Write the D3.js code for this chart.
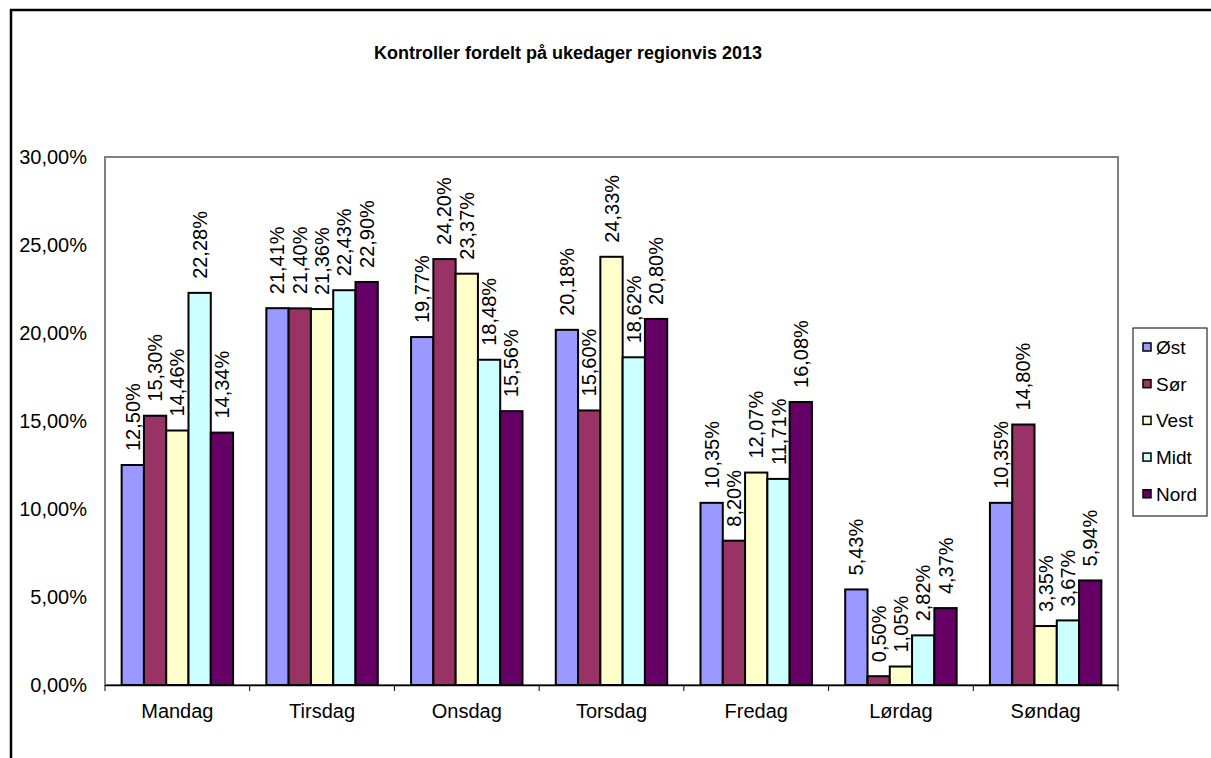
<!DOCTYPE html>
<html>
<head>
<meta charset="utf-8">
<script src="https://cdn.jsdelivr.net/npm/d3@7"></script>
<style>
  body { margin: 0; background: #fff; }
  text { font-family: "Liberation Sans", Arial, sans-serif; fill: #000; }
</style>
</head>
<body>
<div id="chart-area"></div>
<script>
// DATA
var days = ["Mandag", "Tirsdag", "Onsdag", "Torsdag", "Fredag", "Lørdag", "Søndag"];
var regions = ["Øst", "Sør", "Vest", "Midt", "Nord"];
var colors = ["#9999ff", "#993366", "#ffffcc", "#ccffff", "#660066"];
var ost  = [12.50, 21.41, 19.77, 20.18, 10.35, 5.43, 10.35];
var sor  = [15.30, 21.40, 24.20, 15.60, 8.20, 0.50, 14.80];
var vest = [14.46, 21.36, 23.37, 24.33, 12.07, 1.05, 3.35];
var midt = [22.28, 22.43, 18.48, 18.62, 11.71, 2.82, 3.67];
var nord = [14.34, 22.90, 15.56, 20.80, 16.08, 4.37, 5.94];
var yTicks = [0, 5, 10, 15, 20, 25, 30];

var series = [ost, sor, vest, midt, nord];

var W = 1211, H = 758;
var margin = { top: 157, left: 105, right: 93, bottom: 73 };
var width = W - margin.left - margin.right;
var height = H - margin.top - margin.bottom;

var svg = d3.select("#chart-area").append("svg")
    .attr("width", W).attr("height", H);

// outer frame (left and top visible)
svg.append("rect")
    .attr("x", 11).attr("y", 10)
    .attr("width", W + 10).attr("height", H + 10)
    .attr("fill", "none").attr("stroke", "#000").attr("stroke-width", 2.5);

// title
svg.append("text")
    .attr("x", 568).attr("y", 59)
    .attr("text-anchor", "middle")
    .attr("font-size", "18px").attr("font-weight", "bold")
    .text("Kontroller fordelt på ukedager regionvis 2013");

var g = svg.append("g")
    .attr("transform", "translate(" + margin.left + "," + margin.top + ")");

// SCALES
var x0 = d3.scaleBand().domain(days).range([0, width]).paddingInner(0).paddingOuter(0);
var innerPad = 0.115;
var x1 = d3.scaleBand().domain(d3.range(regions.length))
    .range([x0.bandwidth() * innerPad, x0.bandwidth() * (1 - innerPad)]);
var y = d3.scaleLinear().domain([0, 30]).range([height, 0]);

// plot frame (gray)
g.append("rect")
    .attr("x", 0).attr("y", 0).attr("width", width).attr("height", height)
    .attr("fill", "none").attr("stroke", "#808080").attr("stroke-width", 2);

// y axis labels
var fmt = function (d) { return d.toFixed(2).replace(".", ",") + "%"; };
g.selectAll(".ylab").data(yTicks).enter().append("text")
    .attr("class", "ylab")
    .attr("x", -18).attr("y", function (d) { return y(d) + 7; })
    .attr("text-anchor", "end").attr("font-size", "20px")
    .text(fmt);

// x axis
var xAxis = g.append("g").attr("transform", "translate(0," + height + ")")
    .call(d3.axisBottom(x0).tickSize(0).tickPadding(19));
xAxis.select(".domain").attr("stroke", "#000").attr("stroke-width", 1.5);
xAxis.selectAll("text").attr("font-size", "20px").attr("font-family", "Liberation Sans, Arial, sans-serif");
xAxis.selectAll(".sep").data(d3.range(days.length + 1)).enter().append("line")
    .attr("class", "sep")
    .attr("x1", function (i) { return i * x0.step(); })
    .attr("x2", function (i) { return i * x0.step(); })
    .attr("y1", 0).attr("y2", 6)
    .attr("stroke", "#000");

// BARS
series.forEach(function (vals, si) {
    var grp = g.append("g");
    grp.selectAll("rect").data(vals).enter().append("rect")
        .attr("x", function (d, i) { return x0(days[i]) + x1(si); })
        .attr("y", function (d) { return y(d); })
        .attr("width", x1.bandwidth())
        .attr("height", function (d) { return height - y(d); })
        .attr("fill", colors[si])
        .attr("stroke", "#000").attr("stroke-width", 2);
    grp.selectAll("text").data(vals).enter().append("text")
        .attr("transform", function (d, i) {
            var cx = x0(days[i]) + x1(si) + x1.bandwidth() / 2 + 7;
            return "translate(" + cx + "," + (y(d) - 14) + ") rotate(-90)";
        })
        .attr("font-size", "20px")
        .text(function (d) { return fmt(d); });
});

// LEGEND
var lg = svg.append("g").attr("transform", "translate(1133,328)");
lg.append("rect").attr("width", 74).attr("height", 188)
    .attr("fill", "#fff").attr("stroke", "#000").attr("stroke-width", 1);
regions.forEach(function (r, i) {
    var yy = 19 + i * 36.7;
    lg.append("rect").attr("x", 10).attr("y", yy - 4).attr("width", 8).attr("height", 8)
        .attr("fill", colors[i]).attr("stroke", "#000").attr("stroke-width", 1.5);
    lg.append("text").attr("x", 23).attr("y", yy + 7)
        .attr("font-size", "19px").text(r);
});
</script>
</body>
</html>
